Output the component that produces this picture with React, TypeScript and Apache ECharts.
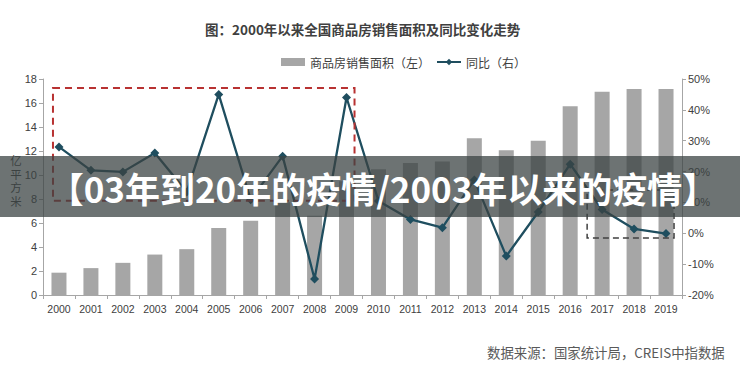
import React, { useEffect, useRef } from "react";
import * as echarts from "echarts";

const years = ["2000","2001","2002","2003","2004","2005","2006","2007","2008","2009","2010","2011","2012","2013","2014","2015","2016","2017","2018","2019"];
const salesArea = [1.86, 2.24, 2.68, 3.37, 3.82, 5.58, 6.19, 7.73, 6.6, 9.48, 10.48, 10.99, 11.13, 13.06, 12.06, 12.85, 15.73, 16.94, 17.17, 17.16];
const yoyGrowth = [28.0, 20.4, 19.9, 26.0, 13.4, 45.0, 10.9, 25.0, -14.8, 44.0, 10.5, 4.5, 1.8, 17.3, -7.4, 6.9, 22.4, 7.7, 1.4, -0.1];
const leftTicks = { min: 0, max: 18, interval: 2 };
const rightTicks = { min: -20, max: 50, interval: 10 };

const barName = "商品房销售面积（左）";
const lineName = "同比（右）";
const titleText = "图：2000年以来全国商品房销售面积及同比变化走势";
const bannerText = "【03年到20年的疫情/2003年以来的疫情】";
const sourceText = "数据来源：国家统计局，CREIS中指数据";
const yNameChars = ["亿", "平", "方", "米"];

const FONT = "'Liberation Sans', 'Noto Sans CJK SC', sans-serif";
const CJK = "'Noto Sans CJK SC', sans-serif";

export default function App() {
  const ref = useRef<HTMLDivElement>(null);
  useEffect(() => {
    if (!ref.current) return;
    const chart = echarts.init(ref.current, null, { renderer: "svg" });
    const axisLine = { show: true, lineStyle: { color: "#a6a6a6", width: 1 } };
    const option: any = {
      animation: false,
      backgroundColor: "#ffffff",
      grid: { left: 43, right: 58, top: 79, bottom: 79, containLabel: false },
      legend: {
        left: 276,
        top: 51,
        itemGap: 6,
        itemWidth: 24,
        itemHeight: 8,
        textStyle: { color: "#404040", fontSize: 12, fontFamily: CJK },
        data: [{ name: barName, icon: "rect" }, { name: lineName }],
      },
      xAxis: {
        type: "category",
        data: years,
        boundaryGap: true,
        axisLine,
        axisTick: { show: true, alignWithLabel: false, length: 4, lineStyle: { color: "#a6a6a6" } },
        axisLabel: { color: "#404040", fontSize: 10.5, fontFamily: FONT, margin: 9 },
        splitLine: { show: false },
      },
      yAxis: [
        {
          type: "value",
          position: "left",
          min: leftTicks.min,
          max: leftTicks.max,
          interval: leftTicks.interval,
          axisLine,
          axisTick: { show: true, length: 4, lineStyle: { color: "#a6a6a6" } },
          axisLabel: { color: "#404040", fontSize: 11, fontFamily: FONT, margin: 6 },
          splitLine: { show: false },
        },
        {
          type: "value",
          position: "right",
          min: rightTicks.min,
          max: rightTicks.max,
          interval: rightTicks.interval,
          axisLine,
          axisTick: { show: true, length: 4, lineStyle: { color: "#a6a6a6" } },
          axisLabel: { color: "#404040", fontSize: 11, fontFamily: FONT, margin: 6, formatter: "{value}%" },
          splitLine: { show: false },
        },
      ],
      series: [
        {
          name: barName,
          type: "bar",
          yAxisIndex: 0,
          data: salesArea,
          barWidth: 15,
          itemStyle: { color: "#a6a6a6" },
          z: 2,
        },
        {
          name: lineName,
          type: "line",
          yAxisIndex: 1,
          data: yoyGrowth,
          symbol: "diamond",
          symbolSize: 9,
          lineStyle: { color: "#1f4e5f", width: 2.3 },
          itemStyle: { color: "#1f4e5f" },
          z: 5,
        },
      ],
    };
    chart.setOption(option);

    const cx = (i: number) => chart.convertToPixel({ xAxisIndex: 0 }, i) as number;
    const yl = (v: number) => chart.convertToPixel({ yAxisIndex: 0 }, v) as number;

    const rx1 = cx(0) - 6, rx2 = cx(9) + 8, ry1 = yl(17.25), ry2 = yl(7.85);
    const gx1 = cx(17) - 15, gx2 = cx(19) + 8, gy1 = yl(8.75), gy2 = yl(4.75);

    const yNameTexts = yNameChars.map((ch, i) => ({
      type: "text",
      x: 16,
      y: 160 + i * 13.5,
      style: {
        text: ch,
        fill: "#404040",
        font: `11.5px ${CJK}`,
        lineHeight: 12,
        align: "center",
        verticalAlign: "middle",
      },
      z: 10,
    }));

    chart.setOption({
      graphic: [
        {
          type: "text",
          left: 205,
          top: 22,
          style: { text: titleText, fill: "#404040", font: `bold 13.5px ${CJK}` },
          z: 30,
        },
        {
          type: "rect",
          shape: { x: rx1, y: ry1, width: rx2 - rx1, height: ry2 - ry1 },
          style: { fill: "none", stroke: "#b83232", lineWidth: 2, lineDash: [7, 5] },
          z: 10,
        },
        {
          type: "rect",
          shape: { x: gx1, y: gy1, width: gx2 - gx1, height: gy2 - gy1 },
          style: { fill: "none", stroke: "#404040", lineWidth: 1.5, lineDash: [6, 4] },
          z: 10,
        },
        ...yNameTexts,
        {
          type: "rect",
          shape: { x: 0, y: 156, width: 740, height: 61 },
          style: { fill: "rgba(58,66,66,0.74)" },
          z: 40,
        },
        {
          type: "text",
          x: 383,
          y: 187,
          style: {
            text: bannerText,
            fill: "#ffffff",
            font: `bold 35px ${CJK}`,
            align: "center",
            verticalAlign: "middle",
          },
          z: 41,
        },
        {
          type: "text",
          x: 487,
          y: 352,
          style: {
            text: sourceText,
            fill: "#595959",
            font: `13.4px ${CJK}`,
            align: "left",
            verticalAlign: "middle",
          },
          z: 30,
        },
      ],
    });

    return () => chart.dispose();
  }, []);
  return <div ref={ref} style={{ position: "absolute", left: 0, top: 0, width: 740, height: 374 }} />;
}
